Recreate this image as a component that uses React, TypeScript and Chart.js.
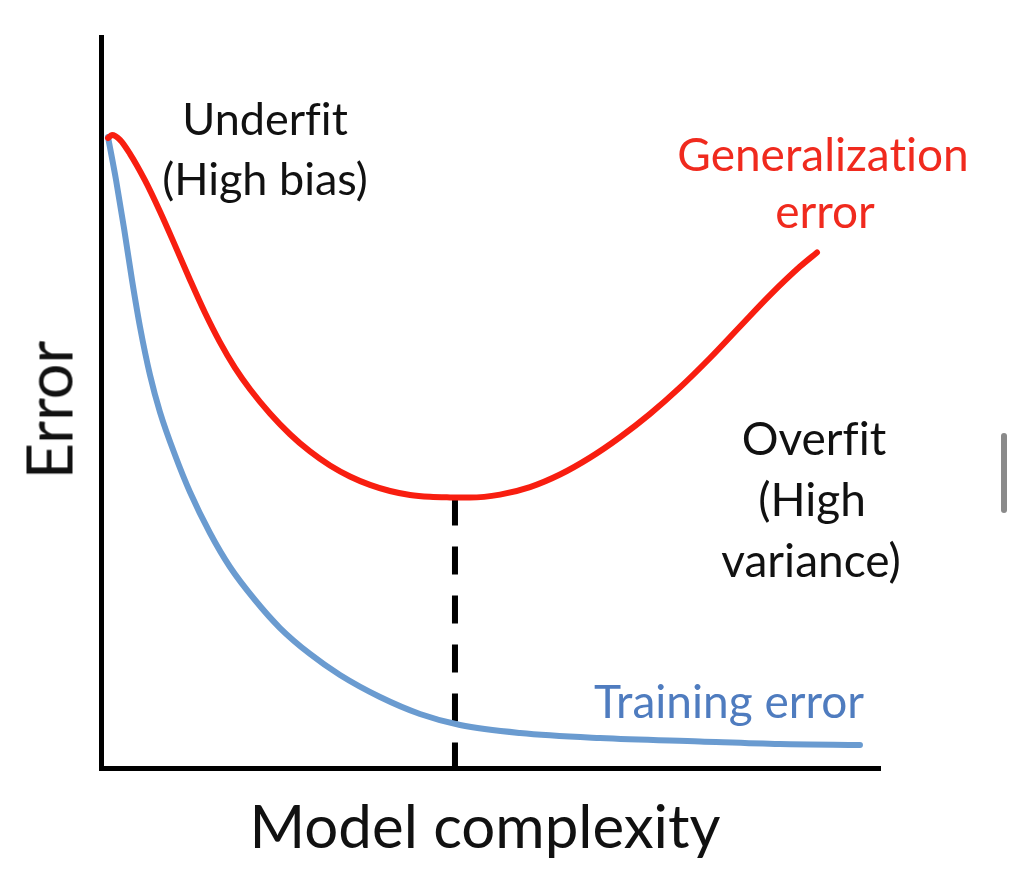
import React, { useEffect, useRef } from "react";
import { Chart, registerables } from "chart.js";

Chart.register(...registerables);

// Model complexity (x) vs error (y)
const genX = [0.9, 1.41, 2.44, 3.72, 5.65, 7.57, 9.5, 11.42, 13.35, 15.28, 17.2, 19.13, 21.69, 24.26, 26.83, 29.4, 31.96, 34.53, 37.1, 39.67, 42.23, 44.8, 47.37, 51.22, 55.07, 58.92, 62.77, 66.62, 70.48, 74.33, 78.18, 82.03, 85.88, 89.73, 91.91];
const genY = [86.18, 86.59, 85.94, 84.02, 80.38, 76.13, 71.5, 66.79, 62.27, 58.22, 54.73, 51.81, 48.5, 45.66, 43.3, 41.38, 39.88, 38.73, 37.89, 37.35, 37.1, 37.02, 37.0, 37.4, 38.43, 40.15, 42.46, 45.25, 48.45, 52.07, 56.09, 60.4, 64.69, 68.59, 70.52];

const trainX = [0.9, 1.93, 2.95, 3.98, 5.01, 6.29, 7.57, 9.5, 11.42, 13.99, 16.56, 19.77, 22.98, 26.83, 30.68, 35.82, 40.95, 46.09, 53.79, 64.06, 76.89, 87.16, 97.43];
const trainY = [86.32, 80.44, 73.87, 66.76, 60.33, 53.76, 48.7, 42.82, 37.76, 32.15, 27.5, 22.98, 19.15, 15.6, 12.72, 9.71, 7.39, 5.88, 4.79, 4.1, 3.63, 3.28, 3.15];

const optimumX = [45.44, 45.44];
const optimumY = [37.0, -0.3];

const RED = "#f81e10";
const BLUE = "#6a9bd0";

const toPoints = (xs: number[], ys: number[]) => xs.map((x, i) => ({ x, y: ys[i] }));

const FONT = "Lato, 'Open Sans', sans-serif";

function Label(props: { text: string; cx: number; baseline: number; size: number; color?: string }) {
  const { text, cx, baseline, size, color } = props;
  return (
    <div
      style={{
        position: "absolute",
        left: cx,
        top: baseline - size * 0.887,
        transform: "translateX(-50%)",
        fontFamily: FONT,
        fontSize: size,
        lineHeight: 1,
        whiteSpace: "nowrap",
        fontVariantLigatures: "none",
        color: color || "#111",
      }}
    >
      {text}
    </div>
  );
}

export default function App() {
  const ref = useRef<HTMLCanvasElement | null>(null);

  useEffect(() => {
    if (!ref.current) return;
    const chart = new Chart(ref.current, {
      type: "line",
      data: {
        datasets: [
          {
            label: "Generalization error",
            data: toPoints(genX, genY),
            borderColor: RED,
            borderWidth: 6,
            pointRadius: 0,
            cubicInterpolationMode: "monotone",
            borderCapStyle: "round",
            borderJoinStyle: "round",
            fill: false,
          },
          {
            label: "Training error",
            data: toPoints(trainX, trainY),
            borderColor: BLUE,
            borderWidth: 6,
            pointRadius: 0,
            cubicInterpolationMode: "monotone",
            borderCapStyle: "round",
            borderJoinStyle: "round",
            fill: false,
          },
          {
            label: "Optimum",
            data: toPoints(optimumX, optimumY),
            borderColor: "#000",
            borderWidth: 6,
            borderDash: [28, 21],
            pointRadius: 0,
            fill: false,
            clip: false,
          } as any,
        ],
      },
      options: {
        responsive: false,
        maintainAspectRatio: false,
        devicePixelRatio: 1,
        animation: false,
        layout: { padding: { left: 101, right: 136, top: 37, bottom: 126 } },
        plugins: { legend: { display: false }, tooltip: { enabled: false } },
        scales: {
          x: {
            type: "linear",
            min: 0,
            max: 100,
            ticks: { display: false },
            grid: { display: false, drawTicks: false, tickLength: 0 },
            border: { display: true, color: "#000", width: 5 },
          },
          y: {
            type: "linear",
            min: 0,
            max: 100,
            ticks: { display: false },
            grid: { display: false, drawTicks: false, tickLength: 0 },
            border: { display: true, color: "#000", width: 5 },
          },
        },
      },
    });
    return () => chart.destroy();
  }, []);

  return (
    <div style={{ position: "absolute", left: 0, top: 0, width: 1016, height: 894, background: "#fff", overflow: "hidden" }}>
      <canvas ref={ref} width={1016} height={894} style={{ position: "absolute", left: 0, top: 0 }} />
      <Label text="Underfit" cx={265} baseline={136} size={45} />
      <Label text="(High bias)" cx={265} baseline={196} size={45} />
      <Label text="Generalization" cx={823} baseline={172} size={46} color="#f02a1e" />
      <Label text="error" cx={825} baseline={229} size={46} color="#f02a1e" />
      <Label text="Overfit" cx={814} baseline={456} size={46} />
      <Label text="(High" cx={812} baseline={517} size={46} />
      <Label text="variance)" cx={811} baseline={578} size={46} />
      <Label text="Training error" cx={729} baseline={719} size={46} color="#4f7cbf" />
      <Label text="Model complexity" cx={485} baseline={848} size={60} />
      <div
        style={{
          position: "absolute",
          left: 48,
          top: 410,
          transform: "translate(-50%, -50%) rotate(-90deg)",
          fontFamily: FONT,
          fontSize: 63,
          lineHeight: 1,
          whiteSpace: "nowrap",
          color: "#111",
        }}
      >
        Error
      </div>
      <div style={{ position: "absolute", left: 1001, top: 433, width: 6, height: 80, borderRadius: 3, background: "#8a8a8a" }} />
    </div>
  );
}
